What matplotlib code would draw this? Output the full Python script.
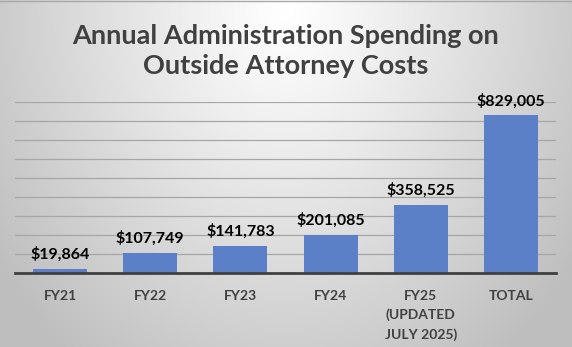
import numpy as np
import matplotlib
matplotlib.use("Agg")
import matplotlib.pyplot as plt
from matplotlib.ticker import MultipleLocator

categories = ["FY21", "FY22", "FY23", "FY24", "FY25\n(UPDATED\nJULY 2025)", "TOTAL"]
spending = [19864, 107749, 141783, 201085, 358525, 829005]
title = "Annual Administration Spending on\nOutside Attorney Costs"

W, H, DPI = 572, 347, 100
fig = plt.figure(figsize=(W / DPI, H / DPI), dpi=DPI)

# radial grey backdrop, brightest near the top centre
bg = fig.add_axes([0, 0, 1, 1], zorder=-10)
yy, xx = np.mgrid[0:H, 0:W]
r = np.sqrt(((xx - 286) / 340.0) ** 2 + ((yy - 10) / 420.0) ** 2)
shade = 255 - 62 * np.clip(r, 0, 1.3) ** 1.1
shade = np.clip(shade, 190, 255) / 255.0
bg.imshow(np.dstack([shade] * 3), extent=[0, W, H, 0], aspect="auto")
bg.set_xlim(0, W)
bg.set_ylim(H, 0)
bg.axis("off")
bg.plot([0, W], [0.5, 0.5], color="#a8a8a8", lw=1.0)

ax = fig.add_axes([15 / W, 74 / H, 541 / W, 171 / H])
ax.patch.set_alpha(0)
x = np.arange(len(categories))
bars = ax.bar(x, spending, width=0.6, color="#5b80c8", zorder=3)
ax.set_xlim(-0.5, len(categories) - 0.5)
ax.set_ylim(0, 900000)
ax.yaxis.set_major_locator(MultipleLocator(100000))
ax.grid(axis="y", color="#a6a6a6", lw=0.9, zorder=0)
ax.set_axisbelow(True)
for s in ["left", "right", "top"]:
    ax.spines[s].set_visible(False)
ax.spines["bottom"].set_color("#404040")
ax.spines["bottom"].set_linewidth(2.0)
ax.spines["bottom"].set_zorder(4)
ax.tick_params(axis="y", left=False, labelleft=False)
ax.tick_params(axis="x", length=0, pad=12)
ax.set_xticks(x)
ax.set_xticklabels(categories, fontfamily="Lato", fontweight="bold",
                   fontsize=10, color="#404040", linespacing=1.65, va="top")

for b, v in zip(bars, spending):
    ax.annotate(f"${v:,.0f}", (b.get_x() + b.get_width() / 2, v),
                xytext=(0, 5), textcoords="offset points", ha="center",
                va="bottom", fontfamily="Lato", fontweight="bold",
                fontsize=11.5, color="black")

fig.text(0.5, 1 - 51 / H, title, ha="center", va="center",
         fontfamily="Lato", fontweight="bold", fontsize=19.5,
         color="#404040", linespacing=1.3)

fig.savefig("out.png", dpi=DPI)
